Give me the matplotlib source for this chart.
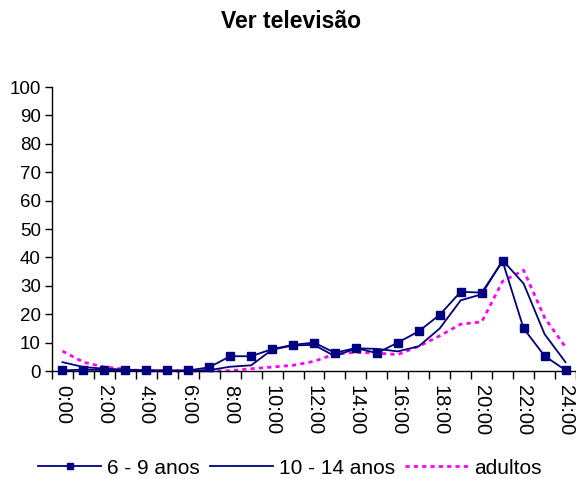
import numpy as np
import matplotlib
matplotlib.use("Agg")
import matplotlib.pyplot as plt

plt.rcParams['font.family'] = ['Liberation Sans', 'DejaVu Sans']

# horas 0:00 .. 24:00
horas = list(range(25))
rotulos = ['%d:00' % h for h in range(0, 25, 2)]

criancas = [0.2, 0.5, 0.3, 0.3, 0.2, 0.2, 0.2, 1.3, 5.2, 5.2, 7.7, 9.2, 10.0,
            6.4, 8.1, 6.3, 10.0, 14.0, 19.8, 27.9, 27.6, 38.6, 15.0, 5.3, 0.3]
jovens = [3.1, 1.4, 0.8, 0.5, 0.2, 0.1, 0.1, 0.3, 1.5, 2.0, 7.5, 9.0, 9.2,
          5.2, 8.0, 7.8, 6.9, 8.7, 15.0, 24.9, 27.0, 39.0, 30.8, 13.0, 3.1]
adultos = [7.0, 3.1, 1.4, 0.6, 0.0, 0.0, 0.0, 0.0, 0.1, 0.8, 1.4, 2.0, 3.4,
           6.0, 6.6, 6.3, 5.8, 8.7, 12.4, 16.5, 17.3, 31.6, 35.5, 18.8, 8.4]

fig = plt.figure(figsize=(5.76, 4.79), dpi=100)
ax = fig.add_axes([52/576, 1 - 371/479, 524/576, 284/479])

ax.plot(horas, criancas, color='#000080', lw=1.3, marker='s', markersize=5.5,
        label='6 - 9 anos', clip_on=False, zorder=3)
ax.plot(horas, jovens, color='#000080', lw=1.3, label='10 - 14 anos',
        clip_on=False, zorder=2)
ax.plot(horas, adultos, color='#FF00FF', lw=2, linestyle=(0, (1.5, 1.5)),
        label='adultos', clip_on=False, zorder=1)

ax.set_xlim(-0.5, 24.5)
ax.set_ylim(0, 100)
ax.set_yticks(range(0, 101, 10))
ax.tick_params(axis='y', labelsize=13.5, length=5, width=1, pad=3)

ax.set_xticks(np.arange(-0.5, 25, 1))
ax.set_xticklabels([])
ax.tick_params(axis='x', which='major', length=6, width=1)
ax.set_xticks(range(0, 25, 2), minor=True)
ax.set_xticklabels(rotulos, minor=True, rotation=-90, fontsize=14.5)
ax.tick_params(axis='x', which='minor', length=0, pad=10)

for s in ['top', 'right']:
    ax.spines[s].set_visible(False)
for s in ['left', 'bottom']:
    ax.spines[s].set_linewidth(1)

fig.text(291/576, 1 - 22/479, 'Ver televisão', fontsize=16.5, fontweight='bold',
         ha='center', va='center')

h, l = ax.get_legend_handles_labels()
leg = fig.legend(h, l, loc='center', bbox_to_anchor=(290/576, 1 - 468/479),
                 ncol=3, frameon=False, fontsize=15, handlelength=3,
                 handletextpad=0.3, columnspacing=0.5, markerscale=0.7,
                 borderpad=0)

fig.savefig('out.png', dpi=100)
